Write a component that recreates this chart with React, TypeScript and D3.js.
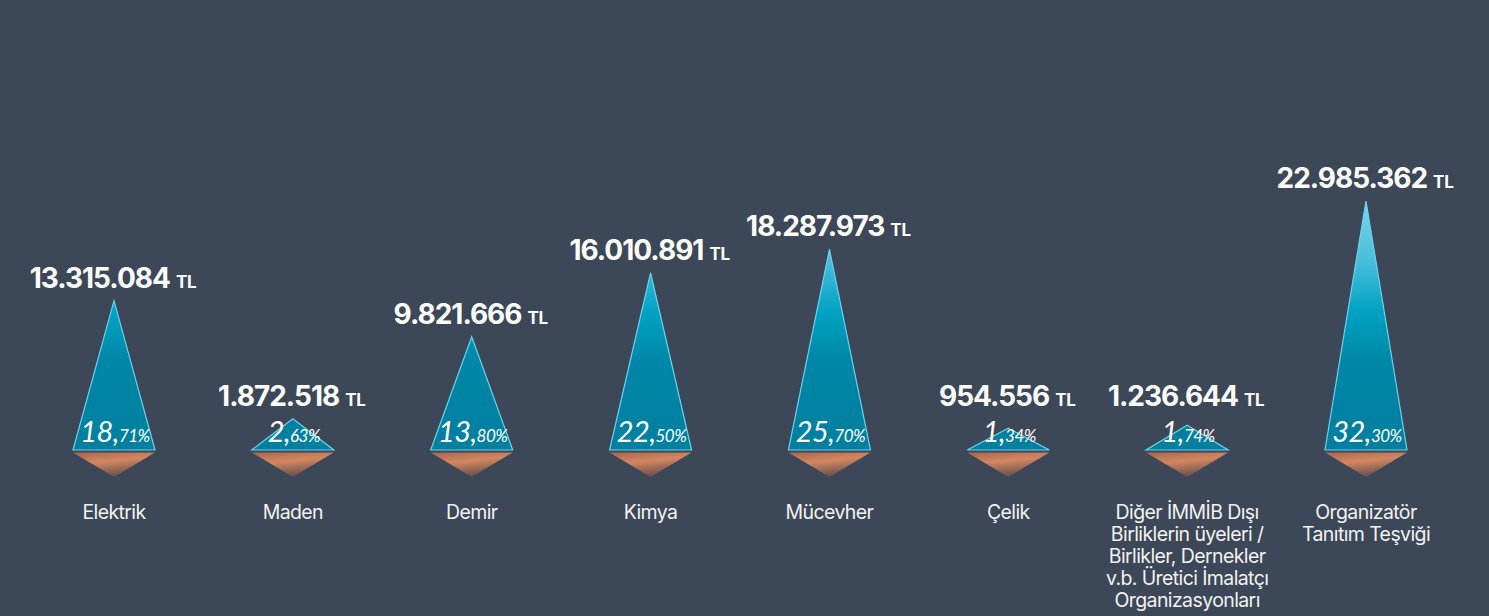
import React from "react";
import * as d3 from "d3";

const categories = [
  "Elektrik",
  "Maden",
  "Demir",
  "Kimya",
  "Mücevher",
  "Çelik",
  "Diğer İMMİB Dışı\nBirliklerin üyeleri /\nBirlikler, Dernekler\nv.b. Üretici İmalatçı\nOrganizasyonları",
  "Organizatör\nTanıtım Teşviği",
];
const amounts = [13315084, 1872518, 9821666, 16010891, 18287973, 954556, 1236644, 22985362];
const shares = [18.71, 2.63, 13.8, 22.5, 25.7, 1.34, 1.74, 32.3];
const currencyLabel = "TL";

const W = 1489;
const H = 616;
const BASE_Y = 450;

const locale = d3.formatLocale({
  decimal: ",",
  thousands: ".",
  grouping: [3],
  currency: ["", ""],
});
const fmtAmount = locale.format(",d");
const fmtShare = locale.format(".2f");

export default function App() {
  const x = d3.scalePoint<string>().domain(categories).range([114, 1366]);
  const y = d3
    .scaleLinear()
    .domain([0, d3.max(amounts) as number])
    .range([BASE_Y - 12, 201]);
  const halfW = 41;

  const data = categories.map((c, i) => ({
    cat: c,
    amount: amounts[i],
    share: shares[i],
  }));

  return (
    <svg
      width={W}
      height={H}
      style={{ position: "absolute", left: 0, top: 0, display: "block", background: "#3c4757" }}
    >
      <defs>
        <linearGradient id="blueGrad" gradientUnits="userSpaceOnUse" x1="0" y1="200" x2="0" y2="450">
          <stop offset="0" stopColor="#7ad6ef" />
          <stop offset="0.25" stopColor="#45bddb" />
          <stop offset="0.45" stopColor="#00a2c1" />
          <stop offset="0.65" stopColor="#0086a6" />
          <stop offset="1" stopColor="#007f9f" />
        </linearGradient>
        <linearGradient id="orangeGrad" x1="0" y1="0" x2="0.35" y2="1">
          <stop offset="0" stopColor="#a8654f" />
          <stop offset="0.45" stopColor="#d3875f" />
          <stop offset="1" stopColor="#6c5250" />
        </linearGradient>
      </defs>
      <rect x={0} y={0} width={W} height={H} fill="#3c4757" />
      {data.map((d, i) => {
        const cx = x(d.cat) as number;
        const apex = y(d.amount);
        const blue = d3.line()([
          [cx - halfW, BASE_Y],
          [cx + halfW, BASE_Y],
          [cx, apex],
        ]) + "Z";
        const orange = d3.line()([
          [cx - halfW, BASE_Y + 2.5],
          [cx + halfW, BASE_Y + 2.5],
          [cx, BASE_Y + 27],
        ]) + "Z";
        const shareStr = fmtShare(d.share);
        const [intPart, decPart] = shareStr.split(",");
        const labelY = Math.min(apex - 13, 406);
        const lines = d.cat.split("\n");
        return (
          <g key={i}>
            <path d={orange} fill="url(#orangeGrad)" />
            <path d={blue} fill="url(#blueGrad)" stroke="#6ad4ee" strokeWidth={1.2} strokeLinejoin="miter" />
            <text
              x={cx + 1}
              y={BASE_Y - 8}
              textAnchor="middle"
              fill="#ffffff"
              fontFamily="Lato, 'Open Sans', sans-serif"
              fontStyle="italic"
              fontWeight={400}
            >
              <tspan fontSize={29} letterSpacing={-0.5}>{intPart + ","}</tspan>
              <tspan fontSize={17} letterSpacing={-0.5}>{decPart + "%"}</tspan>
            </text>
            <text
              x={cx - 1}
              y={labelY}
              textAnchor="middle"
              fill="#ffffff"
              fontFamily="Inter, 'Open Sans', sans-serif"
              fontWeight={700}
            >
              <tspan fontSize={28} letterSpacing={-1}>{fmtAmount(d.amount)}</tspan>
              <tspan fontSize={17} dx={6} letterSpacing={-0.3}>{currencyLabel}</tspan>
            </text>
            <text
              x={cx}
              y={519}
              textAnchor="middle"
              fill="#f2f2f2"
              fontFamily="Inter, 'Open Sans', sans-serif"
              fontSize={19.5}
              letterSpacing={-0.6}
            >
              {lines.map((ln, j) => (
                <tspan key={j} x={cx} dy={j === 0 ? 0 : 22}>
                  {ln}
                </tspan>
              ))}
            </text>
          </g>
        );
      })}
    </svg>
  );
}
